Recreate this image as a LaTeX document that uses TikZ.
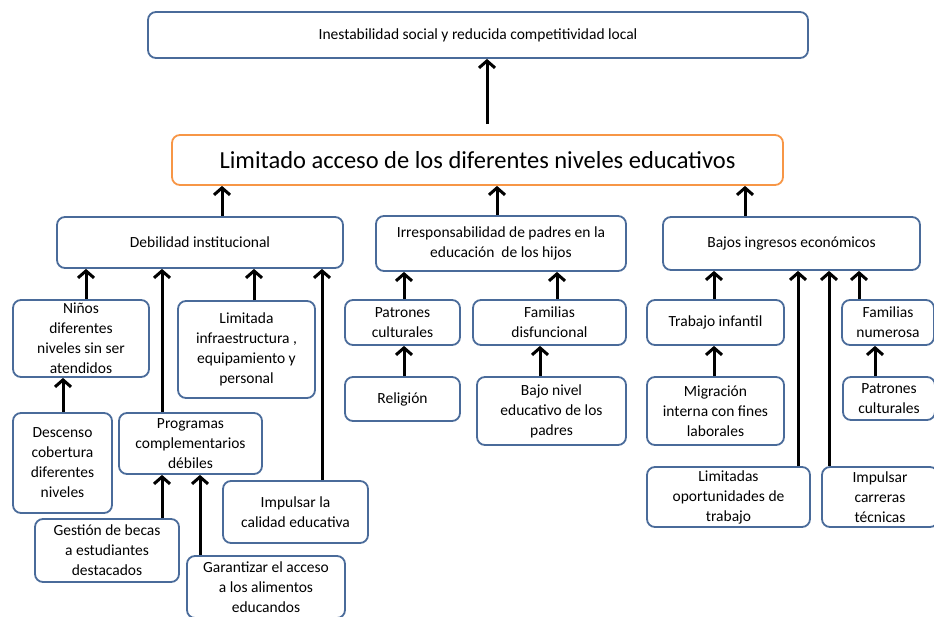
\documentclass[tikz,border=0pt]{standalone}
\usepackage{fontspec}
\setmainfont{Carlito}
\usetikzlibrary{arrows.meta}
\definecolor{borde}{HTML}{4A6B9A}
\definecolor{naranja}{HTML}{F79646}

\begin{document}
\begin{tikzpicture}[x=1pt,y=-1pt,
    caja/.style={draw=borde, line width=1.8pt, rounded corners=8pt, fill=white,
        align=center, inner sep=2pt, font=\fontsize{15.5}{20}\selectfont},
    flecha/.style={line width=3pt, -{Straight Barb[length=7pt,width=16pt]}}]
    \useasboundingbox (0,0) rectangle (934,617);

    % Efecto final
    \node[caja, minimum width=660pt, minimum height=46pt] (efecto) at (478,35)
        {Inestabilidad social y reducida competitividad local};
    % Problema central
    \node[caja, draw=naranja, minimum width=611pt, minimum height=50pt,
        font=\fontsize{24.5}{28}\selectfont] (problema) at (477.5,160)
        {Limitado acceso de los diferentes niveles educativos};
    \coordinate (salida) at ([xshift=9.5pt,yshift=10pt]problema.north);
    \draw[flecha] (salida) -- (salida |- efecto.south);

    % Causas directas
    \node[caja, minimum width=286pt, minimum height=51pt] (debilidad) at (200,242.5)
        {Debilidad institucional};
    \node[caja, minimum width=250pt, minimum height=55pt] (irresp) at (501,243.5)
        {Irresponsabilidad de padres en la\\educación\ \ de los hijos};
    \node[caja, minimum width=257pt, minimum height=53pt] (ingresos) at (791.5,243.5)
        {Bajos ingresos económicos};
    \draw[flecha] (debilidad.north -| 222,0) -- (problema.south -| 222,0);
    \draw[flecha] (irresp.north -| 497,0) -- (problema.south -| 497,0);
    \draw[flecha] (ingresos.north -| 745,0) -- (problema.south -| 745,0);

    % Debilidad institucional
    \node[caja, minimum width=136pt, minimum height=77pt] (ninos) at (81,338.5)
        {Niños\\diferentes\\niveles sin ser\\atendidos};
    \node[caja, minimum width=137pt, minimum height=97pt] (infra) at (246.5,349.5)
        {Limitada\\infraestructura ,\\equipamiento y\\personal};
    \node[caja, minimum width=99pt, minimum height=100pt] (descenso) at (62.5,463)
        {Descenso\\cobertura\\diferentes\\niveles};
    \node[caja, minimum width=143pt, minimum height=61pt] (programas) at (190.5,443.5)
        {Programas\\complementarios\\débiles};
    \node[caja, minimum width=145pt, minimum height=62pt] (calidad) at (295.5,512)
        {Impulsar la\\calidad educativa};
    \node[caja, minimum width=144pt, minimum height=63pt] (becas) at (107,550.5)
        {Gestión de becas\\a estudiantes\\destacados};
    \node[caja, minimum width=158pt, minimum height=62pt] (alimentos) at (266,587)
        {Garantizar el acceso\\a los alimentos\\educandos};
    \draw[flecha] (ninos.north -| 86,0) -- (debilidad.south -| 86,0);
    \draw[flecha] (programas.north -| 162,0) -- (debilidad.south -| 162,0);
    \draw[flecha] (infra.north -| 254,0) -- (debilidad.south -| 254,0);
    \draw[flecha] (calidad.north -| 322,0) -- (debilidad.south -| 322,0);
    \draw[flecha] (descenso.north -| 63,0) -- (ninos.south -| 63,0);
    \draw[flecha] (becas.north -| 162,0) -- (programas.south -| 162,0);
    \draw[flecha] (alimentos.north -| 200,0) -- (programas.south -| 200,0);

    % Irresponsabilidad de padres
    \node[caja, minimum width=115pt, minimum height=45pt] (patrones) at (402.5,322.5)
        {Patrones\\culturales};
    \node[caja, minimum width=153pt, minimum height=45pt] (familias) at (549.5,322.5)
        {Familias\\disfuncional};
    \node[caja, minimum width=115pt, minimum height=44pt] (religion) at (402.5,399)
        {Religión};
    \node[caja, minimum width=149pt, minimum height=68pt] (nivel) at (551.5,411)
        {Bajo nivel\\educativo de los\\padres};
    \draw[flecha] (patrones.north -| 404,0) -- (irresp.south -| 404,0);
    \draw[flecha] (familias.north -| 557,0) -- (irresp.south -| 557,0);
    \draw[flecha] (religion.north -| 404,0) -- (patrones.south -| 404,0);
    \draw[flecha] (nivel.north -| 540,0) -- (familias.south -| 540,0);

    % Bajos ingresos
    \node[caja, minimum width=137pt, minimum height=45pt] (trabajo) at (715.5,322.5)
        {Trabajo infantil};
    \node[caja, minimum width=137pt, minimum height=68pt] (migracion) at (715.5,411)
        {Migración\\interna con fines\\laborales};
    \node[caja, minimum width=163pt, minimum height=60pt] (oportunidades) at (728.5,497)
        {Limitadas\\oportunidades de\\trabajo};
    \node[caja, minimum width=116pt, minimum height=60pt] (carreras) at (880,497)
        {Impulsar\\carreras\\técnicas};
    \node[caja, minimum width=92pt, minimum height=45pt] (numerosa) at (888,322.5)
        {Familias\\numerosa};
    \node[caja, minimum width=92pt, minimum height=43pt] (patrones2) at (889,398.5)
        {Patrones\\culturales};
    \draw[flecha] (trabajo.north -| 714,0) -- (ingresos.south -| 714,0);
    \draw[flecha] (oportunidades.north -| 798,0) -- (ingresos.south -| 798,0);
    \draw[flecha] (carreras.north -| 829,0) -- (ingresos.south -| 829,0);
    \draw[flecha] (numerosa.north -| 859,0) -- (ingresos.south -| 859,0);
    \draw[flecha] (migracion.north -| 714,0) -- (trabajo.south -| 714,0);
    \draw[flecha] (patrones2.north -| 875,0) -- (numerosa.south -| 875,0);

\end{tikzpicture}
\end{document}
